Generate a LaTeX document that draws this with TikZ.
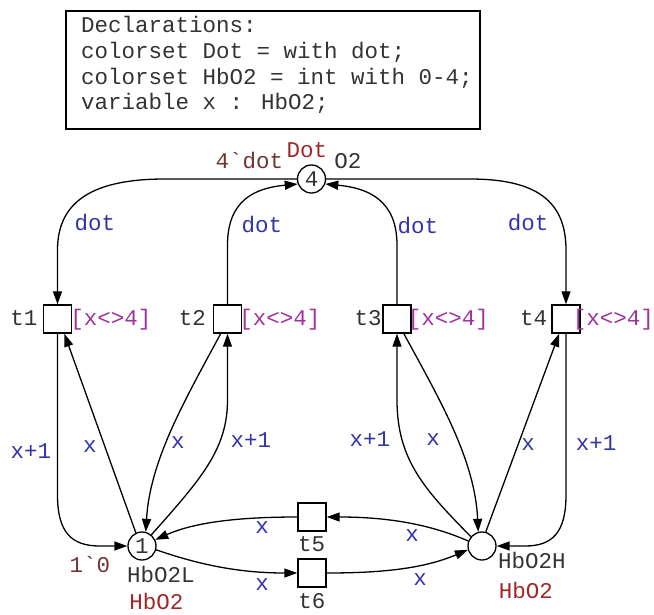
\documentclass[tikz,border=0pt]{standalone}
\usepackage{fontspec}
\setmainfont{Liberation Mono}
\usetikzlibrary{arrows.meta}

\definecolor{inscrcol}{HTML}{3333AA}
\definecolor{guardcol}{HTML}{A032A0}
\definecolor{namecol}{HTML}{333333}
\definecolor{typecol}{HTML}{A02828}
\definecolor{initcol}{HTML}{703434}

\begin{document}
\begin{tikzpicture}[x=1pt, y=-1pt,
  font=\fontsize{22.5}{26}\selectfont,
  place/.style={circle, draw, line width=1.3pt, minimum size=28pt, inner sep=0pt, text=namecol},
  trans/.style={rectangle, draw, line width=1.4pt, minimum size=28pt, inner sep=0pt},
  arc/.style={line width=1.3pt, -{Triangle[length=13pt,width=9pt]}},
  lbl/.style={anchor=base, inner sep=0pt},
  inscr/.style={lbl, text=inscrcol},
  guard/.style={lbl, text=guardcol},
  pname/.style={lbl, text=namecol},
  ptype/.style={lbl, text=typecol},
  pinit/.style={lbl, text=initcol},
  declbox/.style={rectangle, draw, line width=2pt, outer sep=0pt, inner sep=0pt},
  decl/.style={anchor=base west, inner sep=0pt, text=namecol}]

\useasboundingbox (0,0) rectangle (654,614);

% declarations
\node[declbox, anchor=north west, minimum width=414pt, minimum height=118pt] (declbox) at (66,11) {};
\node[decl] (d1) at (81,32) {Declarations:};
\node[decl] (d2) at (81,58) {colorset Dot = with dot;};
\node[decl] (d3) at (81,84) {colorset HbO2 = int with 0-4;};
\node[decl] (d4) at (81,109) {variable x : HbO2;};

% places
\node[place] (O2) at (311.5,179) {4};
\node[place] (L) at (142,546) {1};
\node[place] (H) at (482,546) {};

% transitions
\node[trans] (t1) at (57.5,319) {};
\node[trans] (t2) at (227.5,319) {};
\node[trans] (t3) at (397,319) {};
\node[trans] (t4) at (566,319) {};
\node[trans] (t5) at (312,517) {};
\node[trans] (t6) at (312,573) {};

% place inscriptions
\node[ptype] (O2type) at (307,157) {Dot};
\node[pinit] (O2init) at (249.5,168) {4\textasciigrave dot};
\node[pname] (O2name) at (348,168) {O2};
\node[pname] (Lname) at (161,582) {HbO2L};
\node[ptype] (Ltype) at (156.5,609) {HbO2};
\node[pinit] (Linit) at (90,572) {1\textasciigrave 0};
\node[pname] (Hname) at (532,568) {HbO2H};
\node[ptype] (Htype) at (526,598) {HbO2};

% transition names and guards
\node[pname] (t1name) at (24,325) {t1};
\node[guard] (t1guard) at (111,325) {[x\textless\textgreater 4]};
\node[pname] (t2name) at (192.5,325) {t2};
\node[guard] (t2guard) at (280,325) {[x\textless\textgreater 4]};
\node[pname] (t3name) at (368,325) {t3};
\node[guard] (t3guard) at (448.5,325) {[x\textless\textgreater 4]};
\node[pname] (t4name) at (533.5,325) {t4};
\node[guard] (t4guard) at (613.5,325) {[x\textless\textgreater 4]};
\node[pname] (t5name) at (311.7,551) {t5};
\node[pname] (t6name) at (312,608) {t6};

% arcs around O2
\draw[arc] (O2.west) -- (165,179) .. controls (95,179) and (57.5,200) .. (57.5,250) -- (t1.north);
\draw[arc] (t2.north) -- (227.5,245) .. controls (227.5,200) and (255,188) .. (O2.200);
\draw[arc] (t3.north) -- (397,245) .. controls (397,200) and (368,188) .. (O2.-20);
\draw[arc] (O2.east) -- (470,179) .. controls (535,179) and (566,200) .. (566,250) -- (t4.north);

% arcs around HbO2L
\draw[arc] (t1.south) -- (57.5,495) .. controls (57.5,533) and (72,546) .. (100,546) -- (L.west);
\draw[arc] (L.115) -- (t1.-65);
\draw[arc] (t2.-115) .. controls (185,400) and (150,460) .. (L.75);
\draw[arc] (L.50) .. controls (200,480) and (227.5,450) .. (227.5,400) -- (t2.south);

% arcs around HbO2H
\draw[arc] (H.140) .. controls (425,490) and (397,460) .. (397,400) -- (t3.south);
\draw[arc] (t3.-65) .. controls (440,400) and (475,460) .. (H.105);
\draw[arc] (H.75) -- (t4.-115);
\draw[arc] (t4.south) -- (566,495) .. controls (566,533) and (552,546) .. (525,546) -- (H.east);

% arcs between the two HbO2 places
\draw[arc] (H.160) .. controls (425,522) and (380,517) .. (t5.east);
\draw[arc] (t5.west) .. controls (240,517) and (195,522) .. (L.25);
\draw[arc] (L.-15) .. controls (200,565) and (240,573) .. (t6.west);
\draw[arc] (t6.east) .. controls (385,573) and (425,568) .. (H.-165);

% arc inscriptions
\node[inscr] (a1) at (95,230) {dot};
\node[inscr] (a2) at (262,232) {dot};
\node[inscr] (a3) at (418,233) {dot};
\node[inscr] (a4) at (528,230) {dot};
\node[inscr] (a5) at (31,458) {x+1};
\node[inscr] (a6) at (90,452) {x};
\node[inscr] (a7) at (178,448) {x};
\node[inscr] (a8) at (251,447) {x+1};
\node[inscr] (a9) at (370,446) {x+1};
\node[inscr] (a10) at (433,445) {x};
\node[inscr] (a11) at (528,450) {x};
\node[inscr] (a12) at (596,450) {x+1};
\node[inscr] (a13) at (262,533) {x};
\node[inscr] (a14) at (412,541) {x};
\node[inscr] (a15) at (262,590) {x};
\node[inscr] (a16) at (420,585) {x};
\end{tikzpicture}
\end{document}
